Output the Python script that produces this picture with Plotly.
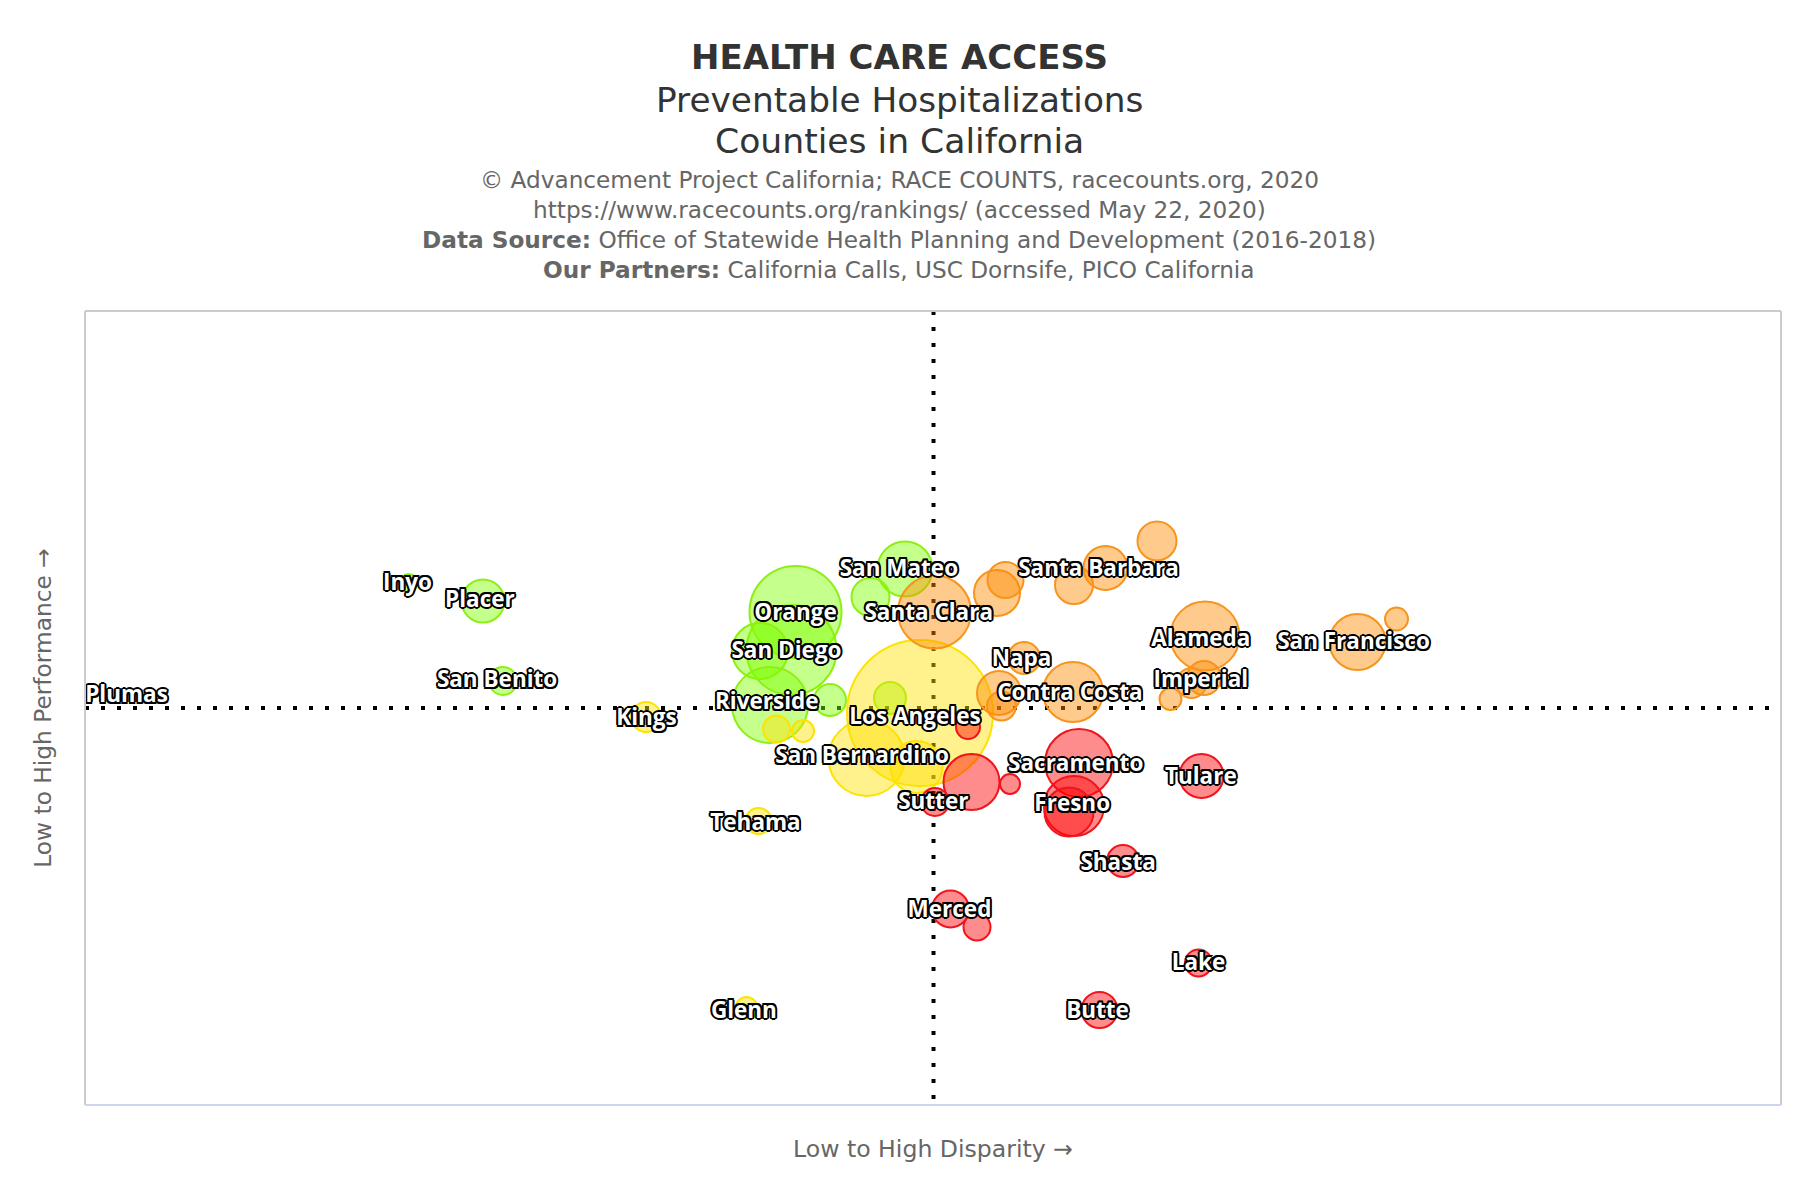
import plotly.graph_objects as go

# Bubble values (x = disparity, y = performance, z = bubble diameter), centred on the medians
green_x = [-525, -450.5, -430.5, -848, -138, -28.5, -63, -142, -173.5, -163.5, -103.5, -43.5]
green_y = [125, 107, 27, 15, 96, 139, 111, 58, 57, 3, 8, 10]
green_z = [18, 43, 28, 18, 92, 55, 38, 90, 56, 76, 32, 32]

yellow_x = [-13.5, -67, -17, -157, -130.5, -287.5, -175, -187]
yellow_y = [-5, -50, -59, -21, -23, -9, -113, -300]
yellow_z = [146, 76, 52, 27, 22, 30, 26, 22]

orange_x = [1, 63.5, 72, 140.5, 172, 223.5, 271.5, 424, 463, 270.5, 258, 237, 139.5, 65.5, 68, 90.5]
orange_y = [96, 115, 128, 123, 140, 167, 72, 66, 89, 30, 25, 9, 16, 15, 2, 50]
orange_z = [73, 46, 36, 38, 44, 39, 69, 56, 23, 34, 30, 22, 60, 44, 29, 32]

red_x = [145.5, 140.5, 135.5, 268, 34.5, 38, 76.5, 1.5, 189.5, 17, 43.5, 265, 166]
red_y = [-55, -98, -104, -68, -19, -74, -76, -94, -153, -201, -219, -255, -302]
red_z = [68, 60, 49, 44, 24, 56, 20, 28, 32, 37, 27, 27, 36]

label_names = ["Inyo", "Placer", "San Benito", "Plumas", "Kings", "Orange", "San Diego", "Riverside",
               "San Mateo", "Santa Clara", "Santa Barbara", "Napa", "Contra Costa", "Alameda",
               "San Francisco", "Imperial", "Los Angeles", "San Bernardino", "Sacramento", "Tulare",
               "Sutter", "Fresno", "Tehama", "Shasta", "Merced", "Lake", "Glenn", "Butte"]
label_x = [-526, -453.6, -436.4, -807, -287, -138, -147, -166.7, -34.6, -4.8, 165, 88, 136.4, 267.3,
           420, 267.3, -18.5, -71.4, 142.2, 267.3, -0.2, 138.7, -178, 184.6, 16, 265, -189.6, 164]
label_y = [124, 106.7, 26.4, 11.5, -11.5, 94, 56, 4.6, 137.8, 94, 138, 48, 13.8, 67.7,
           64.3, 26.4, -10.3, -49.4, -57.4, -70, -95.3, -97.6, -116, -156, -203, -256, -304, -304]

x_limit = [-848.5, 847.5]
y_limit = [-397, 397]

title_lines = ["<b>HEALTH CARE ACCESS</b>", "Preventable Hospitalizations", "Counties in California"]
credit_lines = ["© Advancement Project California; RACE COUNTS, racecounts.org, 2020",
                "https://www.racecounts.org/rankings/ (accessed May 22, 2020)",
                "<b>Data Source:</b> Office of Statewide Health Planning and Development (2016-2018)",
                "<b>Our Partners:</b> California Calls, USC Dornsife, PICO California"]

FONT = "DejaVu Sans"
W, H = 1800, 1200
L, R, T, B = 85, 19, 311, 95

fig = go.Figure()

dot = dict(color="#000000", width=4, dash="4px,12px")
fig.add_trace(go.Scatter(x=x_limit, y=[0, 0], mode="lines", line=dot, hoverinfo="skip", showlegend=False))
fig.add_trace(go.Scatter(x=[0, 0], y=y_limit[::-1], mode="lines", line=dot, hoverinfo="skip", showlegend=False))

groups = [
    ("High performance, low disparity", green_x, green_y, green_z, "rgba(127,255,0,0.45)", "#8ef012"),
    ("Low performance, low disparity", yellow_x, yellow_y, yellow_z, "rgba(255,225,0,0.45)", "#fce300"),
    ("High performance, high disparity", orange_x, orange_y, orange_z, "rgba(255,140,0,0.45)", "#f7941d"),
    ("Low performance, high disparity", red_x, red_y, red_z, "rgba(255,0,0,0.45)", "#f0141e"),
]
for name, xs, ys, zs, fill, edge in groups:
    fig.add_trace(go.Scatter(x=xs, y=ys, mode="markers", name=name, showlegend=False,
                             marker=dict(size=zs, sizemode="diameter", color=fill, opacity=1,
                                         line=dict(color=edge, width=2))))

outline = ",".join(f"{a}px {b}px 0 #000" for a, b in
                   [(-2, 0), (2, 0), (0, -2), (0, 2), (-1.5, -1.5), (1.5, -1.5), (-1.5, 1.5), (1.5, 1.5)])
fig.add_trace(go.Scatter(x=label_x, y=label_y, text=label_names, mode="text", textposition="middle center",
                         cliponaxis=False, hoverinfo="skip", showlegend=False,
                         textfont=dict(family="Open Sans", size=22.5, color="#ffffff", weight="bold", shadow=outline)))

annotations = []
for line, yp, size in zip(title_lines, [57, 100, 141], [34, 34.3, 34.6]):
    annotations.append(dict(text=line, x=899.5, y=yp, size=size, col="#333333"))
for line, yp in zip(credit_lines, [179.5, 209.5, 239.5, 269.5]):
    annotations.append(dict(text=line, x=899, y=yp, size=23.2, col="#666666"))

border = dict(color="#cccccc", width=2)
fig.update_layout(
    width=W, height=H, autosize=False, paper_bgcolor="#ffffff", plot_bgcolor="#ffffff",
    margin=dict(l=L, r=R, t=T, b=B, pad=0), showlegend=False,
    font=dict(family=FONT, color="#666666"),
    xaxis=dict(range=x_limit, showgrid=False, zeroline=False, showticklabels=False, ticks="",
               showline=False,
               title=dict(text="Low to High Disparity →", font=dict(size=23.6, color="#666666"), standoff=35)),
    yaxis=dict(range=y_limit, showgrid=False, zeroline=False, showticklabels=False, ticks="",
               showline=False,
               title=dict(text="Low to High Performance →", font=dict(size=23.3, color="#666666"), standoff=25)),
    shapes=[
        dict(type="line", xref="paper", yref="paper", x0=0, x1=1, y0=1, y1=1, line=border),
        dict(type="line", xref="paper", yref="paper", x0=1, x1=1, y0=0, y1=1, line=border),
        dict(type="line", xref="paper", yref="paper", x0=0, x1=0, y0=0, y1=1, line=border),
        dict(type="line", xref="paper", yref="paper", x0=0, x1=1, y0=0, y1=0, line=dict(color="#ccd6eb", width=2)),
    ],
    annotations=[dict(text=a["text"], xref="paper", yref="paper", x=(a["x"] - L) / (W - L - R),
                      y=1 - (a["y"] - T) / (H - T - B), xanchor="center", yanchor="middle", showarrow=False,
                      font=dict(family=FONT, size=a["size"], color=a["col"])) for a in annotations],
)

fig.write_html("out.html", config={"displayModeBar": False}, post_script="document.body.style.margin='0';")
